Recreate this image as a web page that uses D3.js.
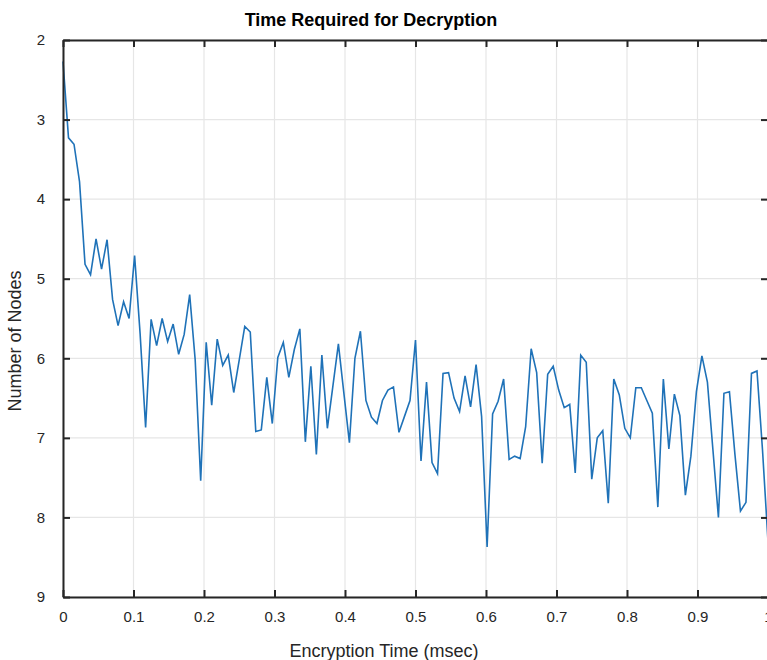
<!DOCTYPE html>
<html>
<head>
<meta charset="utf-8">
<script src="https://cdn.jsdelivr.net/npm/d3@7"></script>
<style>
  html, body { margin: 0; padding: 0; background: #fff; }
  svg { display: block; font-family: "Liberation Sans", Arial, Helvetica, sans-serif; }
</style>
</head>
<body>
<svg id="chart" width="767" height="660"></svg>
<script>
// Decryption time samples: number of nodes measured at evenly spaced encryption times
const nodeCounts = [
  2.27, 3.23, 3.31, 3.78, 4.82, 4.95, 4.50, 4.88, 4.51, 5.26,
  5.59, 5.29, 5.50, 4.71, 5.69, 6.87, 5.51, 5.84, 5.50, 5.79,
  5.57, 5.95, 5.70, 5.20, 6.02, 7.54, 5.80, 6.59, 5.76, 6.09,
  5.96, 6.43, 6.02, 5.60, 5.67, 6.92, 6.90, 6.24, 6.82, 5.99,
  5.80, 6.24, 5.89, 5.63, 7.05, 6.10, 7.21, 5.96, 6.88, 6.35,
  5.82, 6.44, 7.06, 6.00, 5.66, 6.53, 6.74, 6.82, 6.53, 6.40,
  6.36, 6.93, 6.73, 6.53, 5.77, 7.29, 6.30, 7.31, 7.45, 6.19,
  6.18, 6.50, 6.67, 6.22, 6.61, 6.08, 6.73, 8.37, 6.70, 6.54,
  6.26, 7.27, 7.23, 7.26, 6.86, 5.88, 6.18, 7.32, 6.20, 6.10,
  6.40, 6.62, 6.58, 7.44, 5.96, 6.05, 7.52, 7.00, 6.91, 7.82,
  6.26, 6.46, 6.88, 7.00, 6.37, 6.37, 6.53, 6.69, 7.87, 6.26,
  7.14, 6.45, 6.72, 7.72, 7.23, 6.42, 5.97, 6.30, 7.15, 8.00,
  6.44, 6.42, 7.21, 7.92, 7.81, 6.19, 6.16, 7.15, 8.30
];
// Encryption time (msec) for each sample
const encTimes = nodeCounts.map((_, i) => i / (nodeCounts.length - 1));

const xTicks = [0, 0.1, 0.2, 0.3, 0.4, 0.5, 0.6, 0.7, 0.8, 0.9, 1];
const xTickLabels = ["0", "0.1", "0.2", "0.3", "0.4", "0.5", "0.6", "0.7", "0.8", "0.9", "1"];
const yTicks = [2, 3, 4, 5, 6, 7, 8, 9];
const yTickLabels = ["2", "3", "4", "5", "6", "7", "8", "9"];

const titleText = "Time Required for Decryption";
const xLabelText = "Encryption Time (msec)";
const yLabelText = "Number of Nodes";

const svg = d3.select("#chart");
const plot = { left: 63, top: 40, right: 768, bottom: 597 };

const x = d3.scaleLinear().domain([0, 1]).range([plot.left, plot.right]);
const y = d3.scaleLinear().domain([2, 9]).range([plot.top, plot.bottom]);

const axisColor = "#262626";
const gridColor = "#e6e6e6";
const tickLen = 7;

// Grid lines
const grid = svg.append("g");
grid.selectAll("line.vx").data(xTicks).enter().append("line")
  .attr("x1", d => x(d)).attr("x2", d => x(d))
  .attr("y1", plot.top).attr("y2", plot.bottom)
  .attr("stroke", gridColor).attr("stroke-width", 1.2);
grid.selectAll("line.hy").data(yTicks).enter().append("line")
  .attr("x1", plot.left).attr("x2", plot.right)
  .attr("y1", d => y(d)).attr("y2", d => y(d))
  .attr("stroke", gridColor).attr("stroke-width", 1.2);

// Data line
const line = d3.line()
  .x((d, i) => x(encTimes[i]))
  .y(d => y(d));
svg.append("path")
  .datum(nodeCounts)
  .attr("d", line)
  .attr("fill", "none")
  .attr("stroke", "#1f72b8")
  .attr("stroke-width", 1.6)
  .attr("stroke-linejoin", "miter");

// Axes: bottom/left with labels, top/right mirrored ticks only
const xAxisBottom = d3.axisBottom(x).tickValues(xTicks)
  .tickFormat((d, i) => xTickLabels[i]).tickSizeInner(-tickLen).tickSizeOuter(0).tickPadding(14.5);
const xAxisTop = d3.axisTop(x).tickValues(xTicks)
  .tickFormat("").tickSizeInner(-tickLen).tickSizeOuter(0);
const yAxisLeft = d3.axisLeft(y).tickValues(yTicks)
  .tickFormat((d, i) => yTickLabels[i]).tickSizeInner(-tickLen).tickSizeOuter(0).tickPadding(18);
const yAxisRight = d3.axisRight(y).tickValues(yTicks)
  .tickFormat("").tickSizeInner(-tickLen).tickSizeOuter(0);

function styleAxis(g) {
  g.select(".domain").attr("stroke", axisColor).attr("stroke-width", 2);
  g.selectAll(".tick line").attr("stroke", axisColor).attr("stroke-width", 2);
  g.selectAll(".tick text").attr("fill", "#262626").style("font-size", "15px")
    .style("font-family", "'Liberation Sans', Arial, sans-serif");
}

svg.append("g").attr("transform", `translate(0,${plot.bottom})`).call(xAxisBottom).call(styleAxis);
svg.append("g").attr("transform", `translate(0,${plot.top})`).call(xAxisTop).call(styleAxis);
svg.append("g").attr("transform", `translate(${plot.left},0)`).call(yAxisLeft).call(styleAxis);
svg.append("g").attr("transform", `translate(${plot.right},0)`).call(yAxisRight).call(styleAxis);

// Title and axis labels
svg.append("text")
  .attr("x", 371).attr("y", 25.5)
  .attr("text-anchor", "middle")
  .attr("fill", "#000")
  .style("font-size", "18px").style("font-weight", "bold")
  .text(titleText);

svg.append("text")
  .attr("x", 384).attr("y", 657)
  .attr("text-anchor", "middle")
  .attr("fill", "#262626")
  .style("font-size", "18px")
  .text(xLabelText);

svg.append("text")
  .attr("transform", "translate(20.5,341) rotate(-90)")
  .attr("text-anchor", "middle")
  .attr("fill", "#262626")
  .style("font-size", "18px")
  .text(yLabelText);
</script>
</body>
</html>
